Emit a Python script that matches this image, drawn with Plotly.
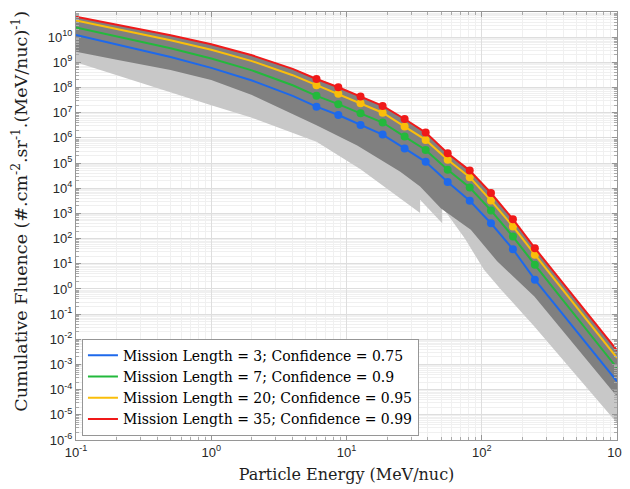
import numpy as np
import plotly.graph_objects as go

# Energies (MeV/nuc) at which the confidence curves are read
energy = [0.1, 0.2, 0.5, 1, 2, 4, 6.0, 8.7, 12.7, 18.5, 26.9, 38.5, 56, 81.5, 117, 170, 247, 400, 600, 1000]
# markers sit on the 11 channel energies (6 ... 247)
marker_idx = list(range(6, 17))

# log10 of cumulative fluence for each mission / confidence curve
log_ml3 = [10.09, 9.72, 9.21, 8.78, 8.28, 7.67, 7.24, 6.91, 6.51, 6.13, 5.58, 5.05, 4.25, 3.50, 2.61, 1.58, 0.37, -1.02, -2.19, -3.67]
log_ml7 = [10.39, 10.04, 9.56, 9.15, 8.68, 8.09, 7.67, 7.34, 6.98, 6.61, 6.05, 5.52, 4.73, 4.03, 3.12, 2.08, 0.96, -0.45, -1.64, -3.14]
log_ml20 = [10.66, 10.33, 9.88, 9.50, 9.05, 8.49, 8.09, 7.75, 7.38, 7.00, 6.45, 5.92, 5.13, 4.44, 3.51, 2.48, 1.36, -0.05, -1.24, -2.74]
log_ml35 = [10.81, 10.50, 10.08, 9.72, 9.28, 8.74, 8.34, 8.01, 7.64, 7.27, 6.75, 6.21, 5.39, 4.70, 3.81, 2.77, 1.62, 0.22, -0.96, -2.44]

# envelope of the simulated (grey) spectra
dark_energy = [0.1, 0.2, 0.5, 1, 2, 4, 6, 12, 25, 35, 50, 83, 130, 245, 500, 1000]
dark_low = [9.42, 9.10, 8.70, 8.30, 7.70, 6.95, 6.50, 5.70, 4.65, 4.07, 3.20, 2.35, 1.10, -0.30, -2.30, -4.27]
light_energy = [0.1, 0.2, 0.5, 1, 2, 4, 6, 12.7, 20, 35, 35, 51, 51, 75, 104, 139, 245, 500, 1000]
light_low = [9.00, 8.50, 7.82, 7.30, 6.80, 6.20, 5.85, 4.75, 3.98, 3.02, 3.54, 2.61, 3.25, 2.00, 0.76, -0.03, -1.49, -3.45, -5.32]

series = [
    ("Mission Length = 3; Confidence = 0.75", log_ml3, "rgb(30,105,235)"),
    ("Mission Length = 7; Confidence = 0.9", log_ml7, "rgb(35,185,60)"),
    ("Mission Length = 20; Confidence = 0.95", log_ml20, "rgb(250,190,10)"),
    ("Mission Length = 35; Confidence = 0.99", log_ml35, "rgb(240,25,25)"),
]

y_tick_exp = list(range(-6, 12))
x_tick_exp = [-1, 0, 1, 2, 3]

SERIF = "DejaVu Serif"

fig = go.Figure()

top = 10 ** np.array(log_ml35)

# light grey region (sparser spectra)
fig.add_trace(go.Scatter(
    x=list(energy) + light_energy[::-1],
    y=list(top) + list(10 ** np.array(light_low[::-1])),
    fill="toself", fillcolor="rgb(200,200,200)", line=dict(width=0),
    mode="lines", hoverinfo="skip", showlegend=False))

# dense grey region
fig.add_trace(go.Scatter(
    x=list(energy) + dark_energy[::-1],
    y=list(top) + list(10 ** np.array(dark_low[::-1])),
    fill="toself", fillcolor="rgb(128,128,128)", line=dict(width=0),
    mode="lines", hoverinfo="skip", showlegend=False))

for name, vals, col in series:
    flu = 10 ** np.array(vals)
    fig.add_trace(go.Scatter(x=energy, y=flu, mode="lines", name=name,
                             line=dict(color=col, width=2)))
    fig.add_trace(go.Scatter(x=[energy[i] for i in marker_idx], y=[flu[i] for i in marker_idx],
                             mode="markers", showlegend=False,
                             marker=dict(color=col, size=8)))

axis_common = dict(
    type="log", automargin=False, showline=True, linecolor="rgb(150,150,150)", linewidth=1,
    mirror="ticks", ticks="inside", ticklen=5, tickcolor="rgb(150,150,150)",
    showgrid=True, gridcolor="rgb(222,222,222)", gridwidth=1, zeroline=False,
    tickfont=dict(family="Liberation Sans", size=13, color="rgb(40,40,40)"),
    minor=dict(dtick="D1", ticks="inside", ticklen=3, tickcolor="rgb(170,170,170)",
               showgrid=True, gridcolor="rgb(240,240,240)"),
)

fig.update_xaxes(
    range=[-1, 3], tickmode="array",
    tickvals=[10.0 ** e for e in x_tick_exp],
    ticktext=["10<sup>%d</sup>" % e for e in x_tick_exp],
    title=dict(text="Particle Energy (MeV/nuc)", standoff=10,
               font=dict(family=SERIF, size=16, color="rgb(30,30,30)")),
    **axis_common)
fig.update_yaxes(
    range=[-6, 11], tickmode="array",
    tickvals=[10.0 ** e for e in y_tick_exp],
    ticktext=["10<sup>%d</sup>" % e for e in y_tick_exp],
    **axis_common)

# y label placed by hand: it sits a little above the plot centre in the original
fig.add_annotation(
    text="Cumulative Fluence (#.cm<sup>-2</sup>.sr<sup>-1</sup>.(MeV/nuc)<sup>-1</sup>)",
    xref="paper", yref="paper", x=-0.104, y=0.535, xanchor="center", yanchor="middle",
    textangle=-90, showarrow=False,
    font=dict(family=SERIF, size=17.5, color="rgb(30,30,30)"))

# the page adds an ~8px offset at top/left, margins compensate so the plot box lands in place
fig.update_layout(
    width=630, height=489,
    margin=dict(l=68, r=21, t=4, b=57),
    plot_bgcolor="white", paper_bgcolor="white",
    legend=dict(x=0.011, y=0.01, xanchor="left", yanchor="bottom",
                bgcolor="white", bordercolor="rgb(150,150,150)", borderwidth=1,
                font=dict(family=SERIF, size=14, color="black"),
                itemwidth=30, tracegroupgap=0),
)

fig.write_html("out.html")
